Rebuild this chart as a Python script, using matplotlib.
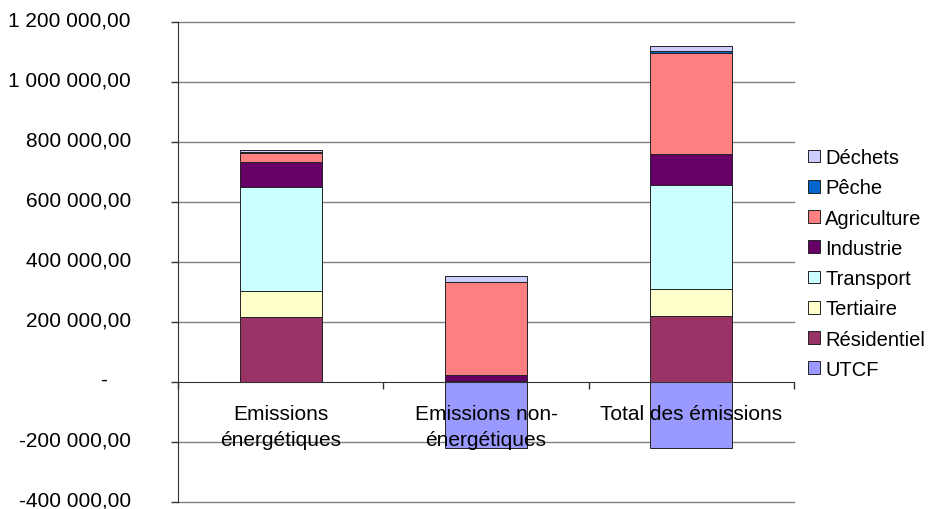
import matplotlib.pyplot as plt
import matplotlib.transforms as mtransforms
import numpy as np
from matplotlib.patches import Patch
from matplotlib.ticker import FuncFormatter

plt.rcParams["font.family"] = ["Liberation Sans", "DejaVu Sans"]

categories = ["Emissions\nénergétiques", "Emissions non-\nénergétiques", "Total des émissions"]

# stacked from bottom to top
series_names = ["UTCF", "Résidentiel", "Tertiaire", "Transport", "Industrie", "Agriculture", "Pêche", "Déchets"]
utcf = [0, -221000, -221000]
residentiel = [218000, 3000, 219000]
tertiaire = [86000, 0, 91000]
transport = [345000, 0, 347000]
industrie = [85000, 22000, 103000]
agriculture = [31000, 307000, 337000]
peche = [3000, 1000, 8000]
dechets = [4000, 19000, 15000]

colors = {
    "UTCF": "#9999ff",
    "Résidentiel": "#993366",
    "Tertiaire": "#ffffcc",
    "Transport": "#ccffff",
    "Industrie": "#660066",
    "Agriculture": "#ff8080",
    "Pêche": "#0066cc",
    "Déchets": "#ccccff",
}

y_ticks = np.arange(-400000, 1200001, 200000)


def fr_fmt(v, pos=None):
    if v == 0:
        return "-    "
    s = f"{abs(v):,.2f}".replace(",", " ").replace(".", ",")
    return ("-" if v < 0 else "") + s


fig = plt.figure(figsize=(9.38, 5.10), dpi=100)
ax = fig.add_axes([178 / 938, 1 - 503 / 510, (794 - 178) / 938, (503 - 23) / 510])

x = np.arange(len(categories))
w = 0.4

# gridlines behind bars
for yv in y_ticks:
    if yv != 0:
        ax.axhline(yv, color="#808080", lw=1.0, zorder=0, clip_on=False)

values = [utcf, residentiel, tertiaire, transport, industrie, agriculture, peche, dechets]
bottom_pos = np.zeros(len(categories))
for name, vals in zip(series_names, values):
    vals = np.array(vals, dtype=float)
    if name == "UTCF":
        ax.bar(x, vals, w, color=colors[name], edgecolor="#222222", lw=0.7, zorder=1)
        continue
    ax.bar(x, vals, w, bottom=bottom_pos, color=colors[name], edgecolor="#222222", lw=0.7, zorder=1)
    bottom_pos += vals

ax.set_xlim(-0.5, 2.5)
ax.set_ylim(-400000, 1200000)
ax.set_yticks(y_ticks)
ax.yaxis.set_major_formatter(FuncFormatter(fr_fmt))
ax.tick_params(axis="y", direction="out", length=5, width=1, color="#333333", pad=29, labelsize=15)

# y labels sit a few pixels above their ticks, as in the original
shift = mtransforms.ScaledTranslation(0, 4 / 100, fig.dpi_scale_trans)
for lbl in ax.get_yticklabels():
    lbl.set_transform(lbl.get_transform() + shift)

ax.spines["bottom"].set_position(("data", 0))
ax.spines["bottom"].set_color("#333333")
ax.spines["left"].set_color("#333333")
ax.spines["top"].set_visible(False)
ax.spines["right"].set_visible(False)

ax.set_xticks([-0.5, 0.5, 1.5, 2.5])
ax.set_xticklabels([])
ax.tick_params(axis="x", which="major", direction="out", length=5, width=1, color="#333333")
ax.set_xticks(x, minor=True)
ax.set_xticklabels(categories, minor=True, linespacing=1.45)
ax.tick_params(axis="x", which="minor", length=0, pad=16, labelsize=15)

handles = [Patch(facecolor=colors[n], edgecolor="#222222", lw=0.7) for n in reversed(series_names)]
fig.legend(
    handles,
    list(reversed(series_names)),
    loc="center left",
    bbox_to_anchor=(808 / 938, 1 - 264.5 / 510),
    frameon=False,
    fontsize=14.5,
    handlelength=0.6,
    handleheight=0.6,
    handletextpad=0.25,
    labelspacing=0.56,
    borderpad=0,
    borderaxespad=0,
)

fig.savefig("out.png", dpi=100)
